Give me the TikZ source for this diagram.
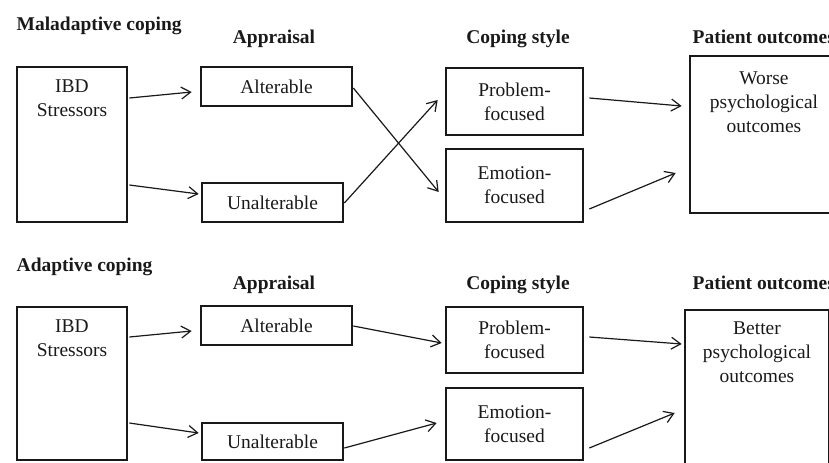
\documentclass[tikz,border=0pt]{standalone}
\usepackage{fontspec}
\setmainfont{Liberation Serif}
\usetikzlibrary{arrows.meta,calc}
\newdimen\pxu \pxu=0.75pt

\begin{document}
\begin{tikzpicture}[
    x=0.75pt, y=-0.75pt,                                % one unit = one pixel, y downwards
    every node/.style={font=\fontsize{14.6}{18}\selectfont, text=black!90},
    head/.style={font=\fontsize{14.6}{18}\selectfont\bfseries},   % column headings
    box/.style={                                        % the boxes
        rectangle,
        draw=black!90,
        line width=2pt,
        inner sep=0pt,
        align=center
    },
    toplabel/.style={align=center, inner sep=0pt, anchor=north},  % text at the top of a tall box
    arr/.style={-{Straight Barb[length=7pt,width=9pt]}, line width=0.9pt, draw=black!90}
]

\useasboundingbox (0,0) rectangle (829,462);
\clip (0,0) rectangle (829,462);

% Maladaptive coping
\node[head, anchor=base west] (mal) at (12,30) {Maladaptive coping};
\node[head, anchor=base] (app1) at (274,43) {Appraisal};
\node[head, anchor=base] (cop1) at (518,43) {Coping style};
\node[head, anchor=base west] (pat1) at (688,43) {Patient outcomes};

\node[box, minimum width=110*\pxu, minimum height=155*\pxu,
    label={[toplabel, yshift=-10pt]north:IBD\\Stressors}] (ibd1) at (72,144.5) {};
\node[box, minimum width=151*\pxu, minimum height=39*\pxu] (alt1) at (276.5,86.5) {Alterable};
\node[box, minimum width=141*\pxu, minimum height=39*\pxu] (unalt1) at (272.5,202.5) {Unalterable};
\node[box, minimum width=137*\pxu, minimum height=67*\pxu] (prob1) at (514.5,101.5) {Problem-\\focused};
\node[box, minimum width=137*\pxu, minimum height=73*\pxu] (emo1) at (514.5,185.5) {Emotion-\\focused};
\node[box, minimum width=148*\pxu, minimum height=157*\pxu,
    label={[toplabel, yshift=-12.4pt]north:Worse\\psychological\\outcomes}] (out1) at (764,134.5) {};

\draw[arr] ($(ibd1.east)+(1,-46.5)$) -- ($(alt1.west)+(-8,5.5)$);
\draw[arr] ($(ibd1.east)+(1,40.5)$) -- ($(unalt1.west)+(-2,-8.5)$);
\draw[arr] ($(alt1.east)+(0,1.5)$) -- ($(emo1.west)+(-6,6.5)$);
\draw[arr] ($(unalt1.east)+(0,0.5)$) -- ($(prob1.west)+(-7,-1.5)$);
\draw[arr] ($(prob1.east)+(5,-3.5)$) -- ($(out1.west)+(-7,-28.5)$);
\draw[arr] ($(emo1.east)+(5,23.5)$) -- ($(out1.west)+(-13,38.5)$);

% Adaptive coping
\node[head, anchor=base west] (ada) at (12,271) {Adaptive coping};
\node[head, anchor=base] (app2) at (274,289) {Appraisal};
\node[head, anchor=base] (cop2) at (518,289) {Coping style};
\node[head, anchor=base west] (pat2) at (688,289) {Patient outcomes};

\node[box, minimum width=110*\pxu, minimum height=153*\pxu,
    label={[toplabel, yshift=-10pt]north:IBD\\Stressors}] (ibd2) at (72,383.5) {};
\node[box, minimum width=151*\pxu, minimum height=39*\pxu] (alt2) at (276.5,325.5) {Alterable};
\node[box, minimum width=141*\pxu, minimum height=37*\pxu] (unalt2) at (272.5,441.5) {Unalterable};
\node[box, minimum width=137*\pxu, minimum height=66*\pxu] (prob2) at (514.5,340) {Problem-\\focused};
\node[box, minimum width=137*\pxu, minimum height=72*\pxu] (emo2) at (514.5,424) {Emotion-\\focused};
\node[box, minimum width=144*\pxu, minimum height=170*\pxu,
    label={[toplabel, yshift=-9.4pt]north:Better\\psychological\\outcomes}] (out2) at (757,395) {};

\draw[arr] ($(ibd2.east)+(1,-46.5)$) -- ($(alt2.west)+(-8,5.5)$);
\draw[arr] ($(ibd2.east)+(1,39.5)$) -- ($(unalt2.west)+(-2,-8.5)$);
\draw[arr] ($(alt2.east)+(0,0.5)$) -- ($(prob2.west)+(-3,3)$);
\draw[arr] ($(unalt2.east)+(0,6.5)$) -- ($(emo2.west)+(-8,-1)$);
\draw[arr] ($(prob2.east)+(5,-3)$) -- ($(out2.west)+(-2,-51)$);
\draw[arr] ($(emo2.east)+(5,24)$) -- ($(out2.west)+(-9,18)$);

\end{tikzpicture}
\end{document}
